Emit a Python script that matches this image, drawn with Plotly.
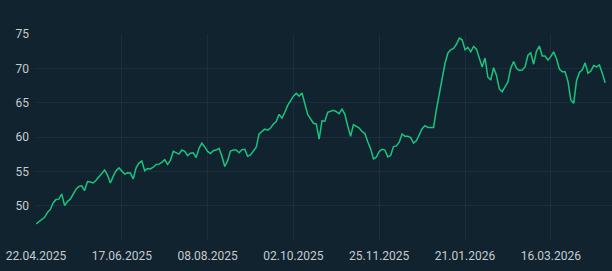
import plotly.graph_objects as go

values = [
    47.35, 47.7, 48.05, 48.3, 49.0, 49.45, 50.4, 50.9, 50.95, 51.7,
    50.0, 50.6, 50.95, 51.7, 52.4, 52.8, 52.9, 52.2, 53.5, 53.45,
    53.3, 53.7, 54.15, 54.7, 55.2, 54.45, 53.3, 54.3, 55.1, 55.5,
    55.1, 54.6, 54.8, 54.75, 53.9, 55.5, 56.2, 56.5, 55.1, 55.4,
    55.35, 55.6, 56.0, 56.05, 56.3, 56.7, 56.0, 56.6, 57.9, 57.7,
    57.5, 58.1, 57.9, 57.3, 57.65, 57.7, 57.0, 58.35, 59.1, 58.55,
    57.9, 57.6, 58.0, 58.1, 58.35, 57.2, 55.7, 56.55, 57.95, 58.1,
    58.1, 57.7, 58.15, 58.2, 57.2, 57.4, 57.9, 58.5, 60.45, 60.8,
    61.15, 61.0, 61.3, 61.9, 62.25, 63.3, 62.75, 63.6, 64.6, 65.25,
    65.95, 66.35, 65.95, 66.4, 64.8, 63.3, 62.65, 62.0, 61.9, 59.7,
    62.35, 62.3, 63.6, 63.7, 63.9, 63.7, 63.4, 64.05, 63.3, 61.6,
    60.1, 61.8, 61.6, 61.3, 60.8, 60.5, 59.3, 58.3, 56.8, 57.05,
    57.9, 58.2, 58.1, 57.1, 57.3, 58.6, 58.7, 59.25, 60.45, 60.1,
    60.1, 59.9, 59.1, 59.45, 60.3, 61.2, 61.65, 61.4, 61.4, 61.4,
    64.0, 66.1, 68.2, 70.7, 72.2, 72.7, 72.9, 73.5, 74.4, 74.15,
    72.7, 73.05, 72.4, 73.2, 72.8, 71.6, 70.2, 71.5, 68.7, 68.3,
    70.1, 69.0, 67.0, 66.6, 67.25, 68.0, 70.0, 71.0, 70.0, 69.7,
    69.75, 70.2, 71.9, 72.25, 70.6, 72.5, 73.25, 71.8, 71.8, 71.2,
    71.7, 72.4, 71.4, 69.9, 69.5, 69.5, 68.1, 65.4, 64.9, 68.2,
    69.4, 69.8, 70.8, 69.3, 69.6, 70.4, 70.2, 70.5, 69.3, 67.9,
]

tick_positions = [0, 30, 60, 90, 120, 150, 180]
tick_labels = ["22.04.2025", "17.06.2025", "08.08.2025", "02.10.2025",
               "25.11.2025", "21.01.2026", "16.03.2026"]
y_ticks = [45, 50, 55, 60, 65, 70, 75]
y_labels = ["", "50", "55", "60", "65", "70", "75"]

bg = "#11232f"
grid = "#1a2e3b"
txt = "#c5cbd0"

fig = go.Figure()
fig.add_trace(go.Scatter(
    x=list(range(len(values))), y=values, mode="lines",
    line=dict(color="#1bc47d", width=1.5), hoverinfo="skip",
))

fig.update_layout(
    width=612, height=271,
    margin=dict(l=36, r=0, t=34, b=31),
    paper_bgcolor=bg, plot_bgcolor=bg,
    showlegend=False,
    font=dict(family="Roboto", size=12, color=txt),
    xaxis=dict(range=[0, 201.4], tickvals=tick_positions, ticktext=tick_labels,
               showgrid=True, gridcolor=grid, gridwidth=1, zeroline=False,
               showline=False, ticks="", ticklabelstandoff=7,
               tickfont=dict(size=12, color=txt)),
    yaxis=dict(range=[45, 75], tickvals=y_ticks, ticktext=y_labels,
               showgrid=True, gridcolor=grid, gridwidth=1, zeroline=False,
               showline=False, ticks="", ticklabelstandoff=6,
               tickfont=dict(size=12, color=txt)),
)

fig.write_html("out.html")
